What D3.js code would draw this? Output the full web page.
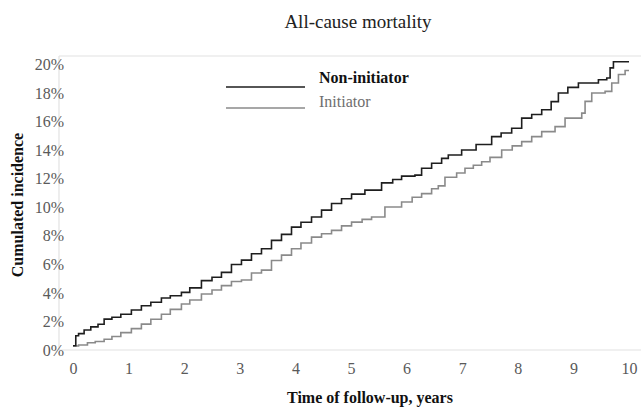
<!DOCTYPE html>
<html>
<head>
<meta charset="utf-8">
<script src="https://cdn.jsdelivr.net/npm/d3@7"></script>
<style>
  body { margin: 0; background: #fff; }
  svg { display: block; font-family: "Liberation Serif", "Times New Roman", serif; }
</style>
</head>
<body>
<div id="chart"></div>
<script>
// DATA (years of follow-up, cumulated incidence in %)
const nonInitT = [0, 0.05, 0.1, 0.2, 0.32, 0.45, 0.56, 0.7, 0.86, 1.05, 1.23, 1.4, 1.59, 1.75, 1.95, 2.1, 2.31, 2.5, 2.67, 2.85,
  3.03, 3.21, 3.39, 3.57, 3.75, 3.93, 4.1, 4.29, 4.47, 4.65, 4.83, 5.01, 5.25, 5.55, 5.75, 5.91, 6.15, 6.27, 6.45, 6.63,
  6.75, 6.99, 7.25, 7.53, 7.7, 7.89, 8.07, 8.25, 8.43, 8.6, 8.73, 8.9, 9.09, 9.45, 9.6, 9.66, 9.72, 10];
const nonInitP = [0.3, 1.0, 1.15, 1.4, 1.62, 1.8, 2.16, 2.3, 2.51, 2.8, 3.1, 3.35, 3.64, 3.8, 4.04, 4.35, 4.86, 5.1, 5.44, 5.99,
  6.3, 6.74, 7.09, 7.68, 8.1, 8.61, 8.95, 9.32, 9.8, 10.26, 10.6, 10.92, 11.2, 11.71, 11.95, 12.18, 12.25, 12.73, 13.08, 13.43,
  13.66, 14.01, 14.4, 14.95, 15.2, 15.54, 16.25, 16.5, 16.83, 17.4, 18.01, 18.4, 18.71, 18.94, 19.06, 19.77, 20.2, 20.2];

const initT = [0, 0.1, 0.26, 0.4, 0.56, 0.7, 0.86, 1.05, 1.23, 1.4, 1.59, 1.75, 1.95, 2.1, 2.31, 2.5, 2.67, 2.85, 3.03, 3.21,
  3.39, 3.57, 3.75, 3.93, 4.1, 4.29, 4.47, 4.65, 4.83, 5.01, 5.2, 5.37, 5.61, 5.91, 6.1, 6.27, 6.45, 6.57, 6.69, 6.9,
  7.05, 7.2, 7.35, 7.5, 7.71, 7.9, 8.07, 8.25, 8.43, 8.67, 8.85, 9.15, 9.21, 9.33, 9.57, 9.69, 9.81, 9.93, 10];
const initP = [0.28, 0.35, 0.51, 0.6, 0.75, 0.95, 1.22, 1.5, 1.81, 2.15, 2.51, 2.85, 3.22, 3.5, 3.92, 4.2, 4.51, 4.8, 4.91, 5.4,
  5.6, 6.27, 6.65, 7.09, 7.5, 7.91, 8.15, 8.38, 8.7, 8.96, 9.15, 9.32, 10.02, 10.37, 10.7, 10.96, 11.3, 11.5, 12.1, 12.4,
  12.73, 12.95, 13.19, 13.5, 14.01, 14.3, 14.6, 14.95, 15.3, 15.65, 16.25, 16.6, 17.42, 18.01, 18.12, 18.71, 19.3, 19.58, 19.58];

const xTicks = [0, 1, 2, 3, 4, 5, 6, 7, 8, 9, 10];
const yTicks = [0, 2, 4, 6, 8, 10, 12, 14, 16, 18, 20];
const seriesNames = ["Non-initiator", "Initiator"];

// LAYOUT
const width = 643;
const height = 414;
const frameLeft = 59;
const frameRight = 641;
const serif = '"Liberation Serif", "Times New Roman", serif';

const x = d3.scaleLinear().domain([0, 10]).range([73, 629]);
const y = d3.scaleLinear().domain([0, 20.6]).range([350, 56]);

const svg = d3.select("#chart")
  .append("svg")
  .attr("width", width)
  .attr("height", height);

// frame lines (left, top, bottom)
const frame = svg.append("g")
  .attr("stroke", "#e2e2e2")
  .attr("stroke-width", 1.2);
frame.append("line")
  .attr("x1", frameLeft).attr("x2", frameLeft)
  .attr("y1", y.range()[1]).attr("y2", y(0));
frame.append("line")
  .attr("x1", frameLeft).attr("x2", frameRight)
  .attr("y1", y.range()[1]).attr("y2", y.range()[1]);
frame.append("line")
  .attr("x1", frameLeft).attr("x2", frameRight)
  .attr("y1", y(0)).attr("y2", y(0));

// axes
const yAxis = d3.axisLeft(y)
  .tickValues(yTicks)
  .tickSize(0)
  .tickPadding(3)
  .tickFormat(d => d + "%");

svg.append("g")
  .attr("transform", "translate(67,0)")
  .call(yAxis)
  .call(g => g.select(".domain").remove())
  .selectAll("text")
  .attr("font-family", serif)
  .attr("font-size", 16)
  .attr("fill", "#5a5a5a");

const xAxis = d3.axisBottom(x)
  .tickValues(xTicks)
  .tickSize(0)
  .tickPadding(13);

svg.append("g")
  .attr("transform", `translate(0,${y(0)})`)
  .call(xAxis)
  .call(g => g.select(".domain").remove())
  .selectAll("text")
  .attr("font-family", serif)
  .attr("font-size", 16)
  .attr("fill", "#5a5a5a");

// curves
const line = d3.line()
  .x(d => x(d[0]))
  .y(d => y(d[1]))
  .curve(d3.curveStepAfter);

const nonInit = nonInitT.map((t, i) => [t, nonInitP[i]]);
const init = initT.map((t, i) => [t, initP[i]]);

svg.append("path")
  .datum(init)
  .attr("fill", "none")
  .attr("stroke", "#8a8a8a")
  .attr("stroke-width", 1.6)
  .attr("d", line);

svg.append("path")
  .datum(nonInit)
  .attr("fill", "none")
  .attr("stroke", "#1e1e1e")
  .attr("stroke-width", 1.6)
  .attr("d", line);

// legend
const legend = svg.append("g");
legend.append("line")
  .attr("x1", 226).attr("x2", 305).attr("y1", 87).attr("y2", 87)
  .attr("stroke", "#1e1e1e").attr("stroke-width", 1.6);
legend.append("line")
  .attr("x1", 226).attr("x2", 305).attr("y1", 108).attr("y2", 108)
  .attr("stroke", "#8a8a8a").attr("stroke-width", 1.6);
legend.append("text")
  .attr("x", 319).attr("y", 83)
  .attr("font-size", 16).attr("font-weight", "bold").attr("fill", "#111")
  .text(seriesNames[0]);
legend.append("text")
  .attr("x", 319).attr("y", 107)
  .attr("font-size", 16).attr("fill", "#6e6e6e")
  .text(seriesNames[1]);

// titles
svg.append("text")
  .attr("x", 358).attr("y", 28)
  .attr("text-anchor", "middle")
  .attr("font-size", 19).attr("fill", "#222")
  .text("All-cause mortality");

svg.append("text")
  .attr("x", 370).attr("y", 403)
  .attr("text-anchor", "middle")
  .attr("font-size", 16).attr("font-weight", "bold").attr("fill", "#111")
  .text("Time of follow-up, years");

svg.append("text")
  .attr("transform", "translate(23,205) rotate(-90)")
  .attr("text-anchor", "middle")
  .attr("font-size", 16).attr("font-weight", "bold").attr("fill", "#111")
  .text("Cumulated incidence");
</script>
</body>
</html>
